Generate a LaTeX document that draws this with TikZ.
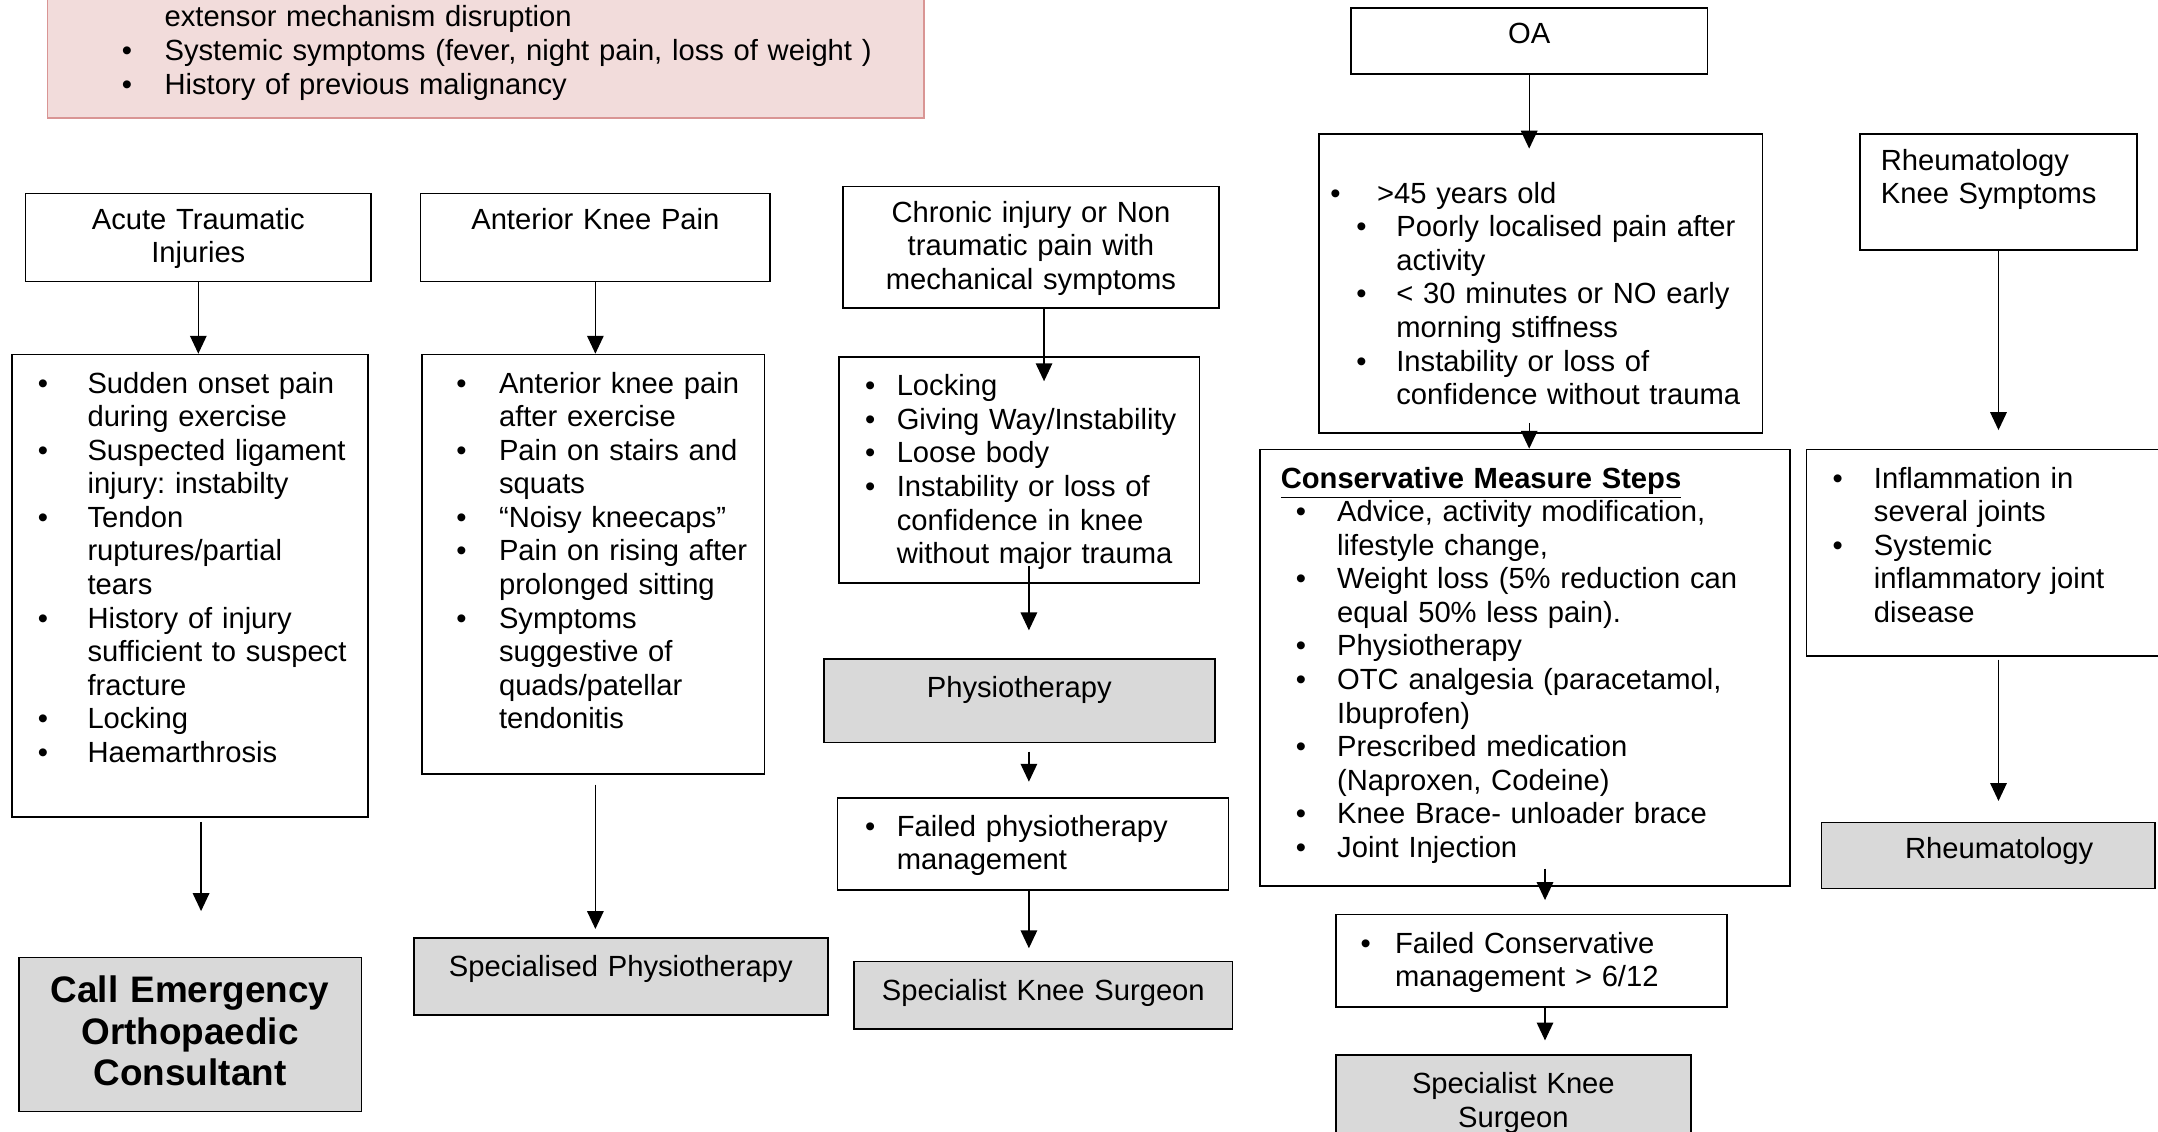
\documentclass[tikz,border=0pt]{standalone}
\usepackage{fontspec}
\setmainfont{Liberation Sans}
\usetikzlibrary{arrows.meta}
\frenchspacing

\definecolor{boxgrey}{HTML}{D9D9D9}
\definecolor{pinkfill}{HTML}{F2DCDB}
\definecolor{pinkline}{HTML}{D99594}

\newlength{\bulin}
\newlength{\bulgap}
\newcommand{\bul}[1]{\hspace*{\bulin}\makebox[\bulgap][l]{\textbullet}#1}
\newcommand{\cont}[1]{\hspace*{\dimexpr\bulin+\bulgap\relax}#1}

\tikzset{
  box/.style={draw, line width=0.6pt, anchor=north west, inner xsep=0pt, inner ysep=4pt,
    align=left, text height=10pt, font=\fontsize{10.6}{12.2}\selectfont},
  head/.style={box, align=center, text height=9pt},
  grey/.style={box, fill=boxgrey, align=center},
  bullets/.style 2 args={execute at begin node={\setlength{\bulin}{#1}\setlength{\bulgap}{#2}}},
  arr/.style={-{Triangle[length=6.5pt,width=6pt]}, line width=0.5pt},
}

\begin{document}
\begin{tikzpicture}[x=0.5pt, y=-0.5pt]
    \useasboundingbox (0,0) rectangle (1568,822);

    % red flags
    \node[box, draw=pinkline, fill=pinkfill, text width=318.5pt, text depth=29pt, bullets={27pt}{15.5pt}] (flags) at (34,-9)
        {\cont{extensor mechanism disruption}\\\bul{Systemic symptoms (fever, night pain, loss of weight )}\\\bul{History of previous malignancy}};

    % acute
    \node[head, text width=125.5pt, text depth=15pt] (acute) at (18,140) {Acute Traumatic\\Injuries};
    \node[box, text width=129.5pt, text depth=150pt, bullets={9.5pt}{18pt}] (acuteList) at (8,257)
        {\bul{Sudden onset pain}\\\cont{during exercise}\\\bul{Suspected ligament}\\\cont{injury: instabilty}\\
         \bul{Tendon}\\\cont{ruptures/partial}\\\cont{tears}\\\bul{History of injury}\\\cont{sufficient to suspect}\\
         \cont{fracture}\\\bul{Locking}\\\bul{Haemarthrosis}};
    \node[grey, text width=124.5pt, text height=12.5pt, text depth=35.5pt, font=\fontsize{13.4}{15}\selectfont\bfseries] (emergency) at (13,695)
        {Call Emergency\\Orthopaedic\\Consultant};

    % anterior
    \node[head, text width=127pt, text depth=15pt] (anterior) at (305,140) {Anterior Knee Pain};
    \node[box, text width=124.5pt, text depth=134.5pt, bullets={12.5pt}{15.5pt}] (anteriorList) at (306,257)
        {\bul{Anterior knee pain}\\\cont{after exercise}\\\bul{Pain on stairs and}\\\cont{squats}\\\bul{“Noisy kneecaps”}\\
         \bul{Pain on rising after}\\\cont{prolonged sitting}\\\bul{Symptoms}\\\cont{suggestive of}\\\cont{quads/patellar}\\
         \cont{tendonitis}};
    \node[grey, text width=150.5pt, text depth=10pt] (specPhysio) at (300,681) {Specialised Physiotherapy};

    % chronic
    \node[head, text width=136.5pt, text depth=27pt] (chronic) at (612,135) {Chronic injury or Non\\traumatic pain with\\mechanical symptoms};
    \node[box, text width=131pt, text depth=64pt, bullets={9.5pt}{11.5pt}] (chronicList) at (609,259)
        {\bul{Locking}\\\bul{Giving Way/Instability}\\\bul{Loose body}\\\bul{Instability or loss of}\\
         \cont{confidence in knee}\\\cont{without major trauma}};
    \node[grey, text width=142pt, text depth=12.5pt] (physio) at (598,478) {Physiotherapy};
    \node[box, text width=142pt, text depth=15.5pt, bullets={10pt}{11.5pt}] (failPhysio) at (608,579)
        {\bul{Failed physiotherapy}\\\cont{management}};
    \node[grey, text width=137.5pt, text depth=6.5pt] (surgeonA) at (620,698) {Specialist Knee Surgeon};

    % OA
    \node[head, text width=129.5pt, text depth=7pt] (oa) at (981,5) {OA};
    \node[box, text width=161pt, text height=21pt, text depth=79.5pt, bullets={13.5pt}{14.5pt}] (oaList) at (958,97)
        {\hspace*{4pt}\makebox[17pt][l]{\textbullet}>45 years old\\\bul{Poorly localised pain after}\\\cont{activity}\\
         \bul{< 30 minutes or NO early}\\\cont{morning stiffness}\\\bul{Instability or loss of}\\\cont{confidence without trauma}};
    \node[box, text width=192.5pt, text depth=140.5pt, bullets={13pt}{15pt}] (conservative) at (915,326)
        {\hspace*{7.5pt}\textbf{\underline{Conservative Measure Steps}}\\\bul{Advice, activity modification,}\\\cont{lifestyle change,}\\
         \bul{Weight loss (5\% reduction can}\\\cont{equal 50\% less pain).}\\\bul{Physiotherapy}\\
         \bul{OTC analgesia (paracetamol,}\\\cont{Ibuprofen)}\\\bul{Prescribed medication}\\\cont{(Naproxen, Codeine)}\\
         \bul{Knee Brace- unloader brace}\\\bul{Joint Injection}};
    \node[box, text width=142pt, text depth=15.5pt, bullets={9pt}{12.5pt}] (failCons) at (970,664)
        {\bul{Failed Conservative}\\\cont{management > 6/12}};
    \node[grey, text width=129pt, text depth=19pt] (surgeonB) at (970,766) {Specialist Knee\\Surgeon};

    % rheumatology
    \node[box, inner xsep=7.5pt, text width=85.5pt, text height=9pt, text depth=25pt] (rheum) at (1351,97) {Rheumatology\\Knee Symptoms};
    \node[box, text width=134pt, text depth=57pt, bullets={9.5pt}{15pt}] (rheumList) at (1312,326)
        {\bul{Inflammation in}\\\cont{several joints}\\\bul{Systemic}\\\cont{inflammatory joint}\\\cont{disease}};
    \node[grey, text width=121pt, text height=9pt, text depth=7pt] (rheumatology) at (1323,597) {\hspace*{8pt}Rheumatology};

    \draw[arr] (acute.south) -- (acute.south |- acuteList.north);
    \draw[arr, shorten <=1.5pt, shorten >=16.5pt] ([xshift=4pt]acuteList.south) -- ([xshift=4pt]acuteList.south |- emergency.north);
    \draw[arr] (anterior.south) -- (anterior.south |- anteriorList.north);
    \draw[arr, shorten <=3.5pt, shorten >=3pt] (anterior.south |- anteriorList.south) -- (anterior.south |- specPhysio.north);
    \draw[arr] ([xshift=4.75pt]chronic.south) -- ([xshift=4.75pt,yshift=-9pt]chronic.south |- chronicList.north);
    \draw[arr, shorten >=10pt] ([xshift=3.5pt,yshift=6.5pt]chronicList.south) -- ([xshift=3.5pt]chronicList.south |- physio.north);
    \draw[arr, shorten <=3pt, shorten >=5.5pt] ([xshift=3.5pt]physio.south) -- ([xshift=3.5pt]physio.south |- failPhysio.north);
    \draw[arr, shorten >=4.5pt] ([xshift=-1.5pt]failPhysio.south) -- ([xshift=-1.5pt]failPhysio.south |- surgeonA.north);
    \draw[arr] (oa.south) -- ([yshift=-5.5pt]oa.south |- oaList.north);
    \draw[arr] ([yshift=4pt]oa.south |- oaList.south) -- (oa.south |- conservative.north);
    \draw[arr, shorten >=5pt] ([xshift=5pt,yshift=6.5pt]failCons.north |- conservative.south) -- ([xshift=5pt]failCons.north);
    \draw[arr, shorten >=5pt] ([xshift=5pt]failCons.south) -- ([xshift=5pt]failCons.south |- surgeonB.north);
    \draw[arr, shorten >=6.75pt] (rheum.south) -- (rheum.south |- rheumList.north);
    \draw[arr, shorten <=1pt, shorten >=7.5pt] (rheum.south |- rheumList.south) -- (rheum.south |- rheumatology.north);
\end{tikzpicture}
\end{document}
